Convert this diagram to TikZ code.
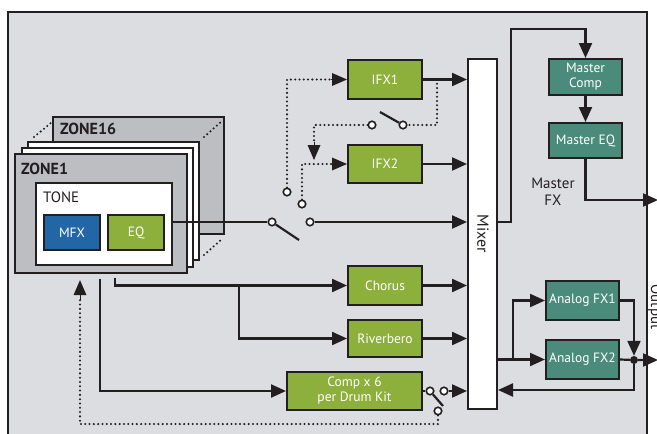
\documentclass[tikz,border=0pt]{standalone}
\usepackage{fontspec}
\setmainfont{PT Sans}
\usetikzlibrary{arrows.meta,calc}
\definecolor{panelgray}{HTML}{DCDDE0}
\definecolor{zonegray}{HTML}{BDBEC1}
\definecolor{fxgreen}{HTML}{8DB03C}
\definecolor{fxblue}{HTML}{2366A6}
\definecolor{fxteal}{HTML}{4B8B7B}
\definecolor{ln}{HTML}{231F20}
\tikzset{
  panel/.style={fill=panelgray,draw=ln,line width=2pt},
  zonebox/.style={fill=zonegray,draw=ln,line width=2.2pt},
  stackbox/.style={fill=white,draw=ln,line width=2pt},
  fxbox/.style={draw=ln,line width=2pt,text=white,font=\fontsize{13.5}{15}\selectfont,align=center,inner sep=0pt},
  gbox/.style={fxbox,fill=fxgreen},
  tbox/.style={fxbox,fill=fxteal},
  conn/.style={draw=ln,line width=2.2pt},
  arr/.style={-{Triangle[length=15pt,width=13pt]}},
  tiponly/.style={draw=ln,line width=0pt,-{Triangle[length=15pt,width=13pt]}},
  dots/.style={draw=ln,line width=2.3pt,dash pattern=on 0pt off 4.3pt,line cap=round},
  sw/.style={circle,draw=ln,fill=white,line width=1.6pt,inner sep=0pt,minimum size=7.5pt},
  jdot/.style={circle,fill=ln,inner sep=0pt,minimum size=8pt},
  lbl/.style={text=ln,font=\fontsize{15}{16}\selectfont,inner sep=0pt},
}
\begin{document}
\begin{tikzpicture}[x=1pt,y=-1pt]
\useasboundingbox (0,0) rectangle (657,434);
% outer panel
\path[panel] (8,12) rectangle (647,450);
\node[lbl,rotate=-90,anchor=south] (outlbl) at (648,307) {Output};
\path[panel,fill=none] (8,12) rectangle (647,450);

% zone stack
\path[zonebox] (53,117) rectangle (224,234);
\node[inner sep=0pt,font=\bfseries\fontsize{16}{18}\selectfont,text=ln,anchor=west] (z16) at (60,129) {ZONE16};
\path[stackbox] (28,142) rectangle (199,260);
\path[stackbox] (22,148) rectangle (193,267);
\node[zonebox,minimum width=172pt,minimum height=119pt,inner sep=0pt] (zone1) at (101,213.5) {};
\node[inner sep=0pt,font=\bfseries\fontsize{16}{18}\selectfont,text=ln,anchor=west] (z1) at (21,169) {ZONE1};
\node[stackbox,minimum width=136pt,minimum height=82pt,inner sep=0pt] (tone) at (104,224) {};
\node[lbl,anchor=west] (tonelbl) at (43,197) {TONE};
\node[fxbox,fill=fxblue,minimum width=56pt,minimum height=35pt] (mfx) at (72,232.5) {MFX};
\node[gbox,minimum width=56pt,minimum height=35pt] (eq) at (136,232.5) {EQ};
% dotted corners
\draw[dots] (34,137) -- (52,122);
\draw[dots] (204,137) -- (222,121);
\draw[dots] (204,255) -- (222,239);

% mixer
\node[draw=ln,fill=white,line width=2pt,minimum width=29pt,minimum height=350pt,inner sep=0pt] (mixer) at (482.5,234) {};
\node[lbl,rotate=-90,font=\fontsize{16}{17}\selectfont] (mixlbl) at (483,234) {Mixer};

% effect boxes
\node[gbox,minimum width=74pt,minimum height=39pt] (ifx1) at (385,79.5) {IFX1};
\node[gbox,minimum width=74pt,minimum height=38pt] (ifx2) at (385,164) {IFX2};
\node[gbox,minimum width=74pt,minimum height=39pt] (chorus) at (385,285.5) {Chorus};
\node[gbox,minimum width=74pt,minimum height=37pt] (river) at (385,338.5) {Riverbero};
\node[gbox,minimum width=135pt,minimum height=38pt] (comp) at (354.5,391) {Comp x 6\\per Drum Kit};
\node[tbox,minimum width=73pt,minimum height=36pt] (mcomp) at (585.5,77) {Master\\Comp};
\node[tbox,minimum width=73pt,minimum height=35pt] (meq) at (585.5,140.5) {Master EQ};
\node[lbl,align=center,font=\fontsize{15}{17}\selectfont] (mfxlbl) at (553,192) {Master\\FX};
\node[tbox,minimum width=73pt,minimum height=39pt] (afx1) at (582.5,300.5) {Analog FX1};
\node[tbox,minimum width=73pt,minimum height=39pt] (afx2) at (582.5,359.5) {Analog FX2};

% switch contacts
\node[sw] (swa) at (272,222) {};
\node[sw] (swb) at (310,222) {};
\node[sw] (d1) at (287,192) {};
\node[sw] (d2) at (302,204) {};
\node[sw] (ia) at (372,125) {};
\node[sw] (ib) at (403,125) {};
\node[sw] (ca) at (430,391) {};
\node[sw] (cb) at (444,391) {};
\node[sw] (cc) at (438,411) {};
\node[jdot] (jn) at (634,360) {};
\coordinate (blade1) at (299,240);
\coordinate (blade2) at (380,112);
\coordinate (blade3) at (443,406);

% main signal path
\draw[conn] (tone.east |- swa) -- (swa);
\draw[conn] (swa) -- (blade1);
\draw[conn,arr] (swb) -- (swb -| mixer.west);
\draw[conn,arr] (ifx1.east) -- (ifx1.east -| mixer.west);
\draw[conn,arr] (ifx2.east) -- (ifx2.east -| mixer.west);
\draw[conn,arr] (chorus.east) -- (chorus.east -| mixer.west);
\draw[conn,arr] (river.east) -- (river.east -| mixer.west);

% dotted sends to IFX
\draw[dots] (d1) -- (d1 |- ifx1.west) -- ([xshift=-14pt]ifx1.west);
\draw[tiponly] ([xshift=-16pt]ifx1.west) -- (ifx1.west);
\draw[dots] (d2) -- (d2 |- ifx2.west) -- ([xshift=-14pt]ifx2.west);
\draw[tiponly] ([xshift=-16pt]ifx2.west) -- (ifx2.west);
\draw[dots] (437,79.5) -- (437,125) -- (ib);
\draw[conn] (ib) -- (blade2);
\draw[dots] (ia) -- (314,125) -- (314,144);
\draw[tiponly] (314,142) -- (314,160);

% sends from zone
\coordinate (ch0) at ([xshift=14pt,yshift=-4pt]zone1.south);
\coordinate (cp0) at ([xshift=-1pt,yshift=-5pt]zone1.south);
\coordinate (fb0) at ([xshift=-21pt,yshift=-6pt]zone1.south);
\draw[conn,arr] (ch0) |- (chorus.west);
\draw[conn,arr] (239,285.5) |- (river.west);
\draw[conn,arr] (cp0) |- (comp.west);

% comp switch
\draw[conn] (comp.east |- ca) -- (ca);
\draw[conn] (ca) -- (blade3);
\draw[conn,arr] (cb) -- (cb -| mixer.west);
\draw[dots] (cc) -- (438,424) -- (80,424) -- (80,296);
\draw[tiponly] ([yshift=-19pt]fb0) -- (fb0);

% master FX
\draw[conn,arr] (mixer.east |- 0,222) -- (511,222) -- (511,29) -| (mcomp.north);
\draw[conn,arr] (mcomp.south) -- (meq.north);
\coordinate (out1) at (658,200);
\draw[conn,arr] (meq.south) |- (out1);

% analog FX
\draw[conn,arr] (mixer.east |- afx2.west) -- (afx2.west);
\draw[conn,arr] (513,359.5) |- (afx1.west);
\draw[conn,arr] (afx1.east) -| (jn);
\coordinate (out2) at (658,360);
\draw[conn,arr] (afx2.east) -- (jn) -- (out2);
\draw[conn,arr] (jn) -- (634,390) -- (mixer.east |- 0,390);
\end{tikzpicture}
\end{document}
